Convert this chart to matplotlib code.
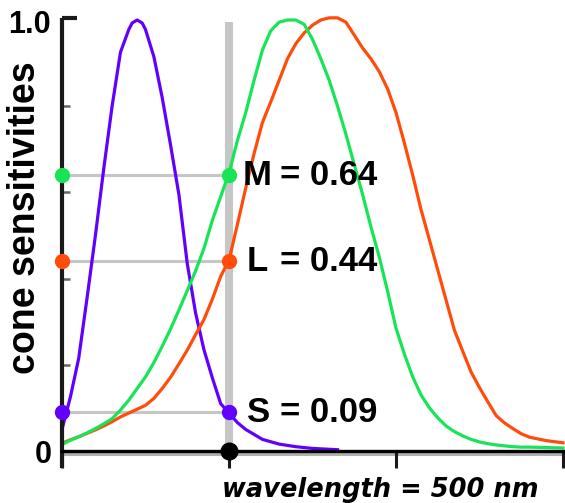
import matplotlib
matplotlib.use('Agg')
import matplotlib.pyplot as plt

plt.rcParams['font.family'] = ['Liberation Sans', 'DejaVu Sans']

# cone sensitivity curves
s_wl = [400, 405, 410, 415, 420, 425, 430, 435, 440, 442, 445, 448, 450, 455,
        460, 465, 470, 475, 480, 485, 490, 495, 500, 505, 510, 520, 530, 540,
        550, 560, 565]
s_val = [0.05, 0.125, 0.215, 0.355, 0.5, 0.655, 0.8, 0.925, 0.978, 0.993, 1.0,
         0.993, 0.978, 0.915, 0.82, 0.71, 0.595, 0.435, 0.32, 0.235, 0.17, 0.11,
         0.088, 0.066, 0.05, 0.027, 0.016, 0.01, 0.006, 0.004, 0.003]

ml_wl = [400, 405, 410, 415, 420, 425, 430, 435, 440, 445, 450, 455, 460, 465,
         470, 475, 480, 485, 490, 495, 500, 505, 510, 515, 520, 525, 530, 535,
         540, 545, 550, 555, 560, 565, 570, 575, 580, 585, 590, 595, 600, 605,
         610, 615, 620, 625, 630, 635, 640, 645, 650, 655, 660, 665, 670, 675,
         680, 690, 700]
m_val = [0.015, 0.025, 0.033, 0.042, 0.052, 0.063, 0.075, 0.095, 0.118, 0.145,
         0.172, 0.205, 0.243, 0.283, 0.327, 0.372, 0.418, 0.47, 0.535, 0.59, 0.645,
         0.72, 0.785, 0.86, 0.93, 0.975, 0.995, 1.0, 1.0, 0.99, 0.955, 0.91,
         0.86, 0.8, 0.735, 0.665, 0.595, 0.52, 0.45, 0.37, 0.285, 0.225, 0.172,
         0.13, 0.1, 0.077, 0.058, 0.045, 0.035, 0.027, 0.021, 0.017, 0.014,
         0.012, 0.01, 0.009, 0.009, 0.008, 0.007]
l_val = [0.018, 0.026, 0.033, 0.041, 0.049, 0.058, 0.068, 0.079, 0.088, 0.097,
         0.106, 0.122, 0.145, 0.171, 0.202, 0.234, 0.27, 0.305, 0.352, 0.405,
         0.443, 0.525, 0.61, 0.69, 0.762, 0.81, 0.86, 0.91, 0.945, 0.97, 0.988,
         1.0, 1.005, 1.005, 0.995, 0.965, 0.935, 0.91, 0.88, 0.84, 0.785, 0.715,
         0.64, 0.56, 0.49, 0.42, 0.35, 0.28, 0.231, 0.183, 0.147, 0.114, 0.082,
         0.065, 0.052, 0.04, 0.032, 0.024, 0.019]

probe_wl = 500
labels = ['M', 'L', 'S']
probe_vals = [0.64, 0.44, 0.09]
label_wl = [508, 510.5, 511]

purple = '#6200ff'
green = '#18e458'
orange = '#ff4c0a'
gray = '#c6c6c6'
colors = [green, orange, purple]

W, H = 565, 503
fig = plt.figure(figsize=(W / 100, H / 100), dpi=100)
ax = fig.add_axes([62 / W, 1 - 451 / H, (563 - 62) / W, (451 - 20) / H])
ax.set_xlim(400, 700)
ax.set_ylim(0, 1)
for sp in ax.spines.values():
    sp.set_visible(False)

# gray guides
ax.plot([probe_wl, probe_wl], [0, 0.995], color=gray, lw=5.8, solid_capstyle='butt',
        zorder=1, clip_on=False)
for v in probe_vals:
    ax.plot([400, probe_wl], [v, v], color=gray, lw=2.2, zorder=1)
ax.plot([400, 700], [-0.006, -0.006], color='#b0b0b0', lw=2.2, zorder=1, clip_on=False)

# curves
ax.plot(s_wl, s_val, color=purple, lw=2.3, zorder=3, clip_on=False)
ax.plot(ml_wl, l_val, color=orange, lw=2.3, zorder=3, clip_on=False)
ax.plot(ml_wl, m_val, color=green, lw=2.3, zorder=3, clip_on=False)

# dots and labels
for lab, v, c, lx in zip(labels, probe_vals, colors, label_wl):
    ax.plot([400, probe_wl], [v, v], 'o', color=c, ms=10, zorder=5, clip_on=False)
    ax.text(lx, v, lab, fontsize=25, fontweight='bold', va='center', ha='left')
    ax.text(530.5, v, f'= {v:.2f}', fontsize=25, fontweight='bold', va='center', ha='left')
ax.plot([probe_wl], [0], 'o', color='black', ms=12, zorder=6, clip_on=False)

# axes lines
ax.plot([400, 400], [1.005, -0.04], color='#1a1a1a', lw=3, zorder=4, clip_on=False,
        solid_capstyle='butt')
ax.plot([400, 409], [1.005, 1.005], color='#1a1a1a', lw=3, zorder=4, clip_on=False,
        solid_capstyle='butt')
ax.plot([400, 700], [0, 0], color='black', lw=2.4, zorder=4, clip_on=False)

ax.set_xticks([400, 500, 600, 700])
ax.set_xticklabels([])
ax.tick_params(axis='x', direction='out', length=12, width=2.2, color='#1a1a1a')
ax.set_yticks([0.2, 0.4, 0.6, 0.8])
ax.set_yticklabels([])
ax.tick_params(axis='y', direction='in', length=6, width=1.8, color='#666666')

fig.text(51 / W, 1 - 33 / H, '1.0', fontsize=22, fontweight='bold', ha='right',
         va='baseline')
fig.text(52 / W, 1 - 463 / H, '0', fontsize=22, fontweight='bold', ha='right',
         va='baseline')

fig.text(35 / W, 1 - 218 / H, 'cone sensitivities', fontsize=27, fontweight='bold',
         rotation=90, rotation_mode='anchor', ha='center', va='baseline')
fig.text(380 / W, 1 - 497 / H, 'wavelength = 500 nm', family='DejaVu Sans',
         fontsize=18.5, fontweight='bold', fontstyle='italic', ha='center', va='baseline')

fig.savefig('out.png', dpi=100)
